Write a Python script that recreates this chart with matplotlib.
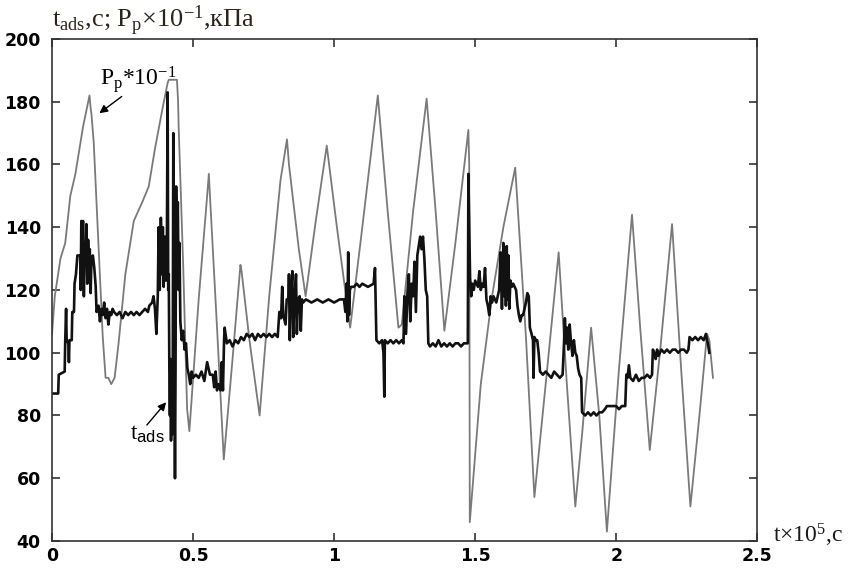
import matplotlib
matplotlib.use("Agg")
import matplotlib.pyplot as plt
import numpy as np

# P_p * 10^-1 (gray sawtooth), time in 10^5 s
pp_t = [0.000, 0.010, 0.030, 0.047, 0.065, 0.083, 0.110, 0.133, 0.137, 0.140, 0.148, 0.165,
        0.180, 0.190, 0.200, 0.210, 0.222, 0.236, 0.260, 0.290, 0.320, 0.343, 0.365, 0.390,
        0.410, 0.414, 0.443, 0.447, 0.449, 0.465, 0.479, 0.487, 0.520, 0.550, 0.556, 0.560,
        0.585, 0.609, 0.640, 0.668, 0.672, 0.700, 0.736, 0.770, 0.810, 0.833, 0.840, 0.875,
        0.899, 0.935, 0.974, 1.010, 1.057, 1.100, 1.155, 1.190, 1.228, 1.240, 1.280, 1.328,
        1.360, 1.391, 1.430, 1.476, 1.479, 1.481, 1.520, 1.560, 1.600, 1.642, 1.680, 1.710,
        1.750, 1.796, 1.825, 1.855, 1.880, 1.911, 1.940, 1.967, 2.010, 2.056, 2.085, 2.119,
        2.155, 2.198, 2.230, 2.263, 2.295, 2.322, 2.330, 2.343]
pp_v = [106, 118, 130, 135, 150, 157, 172, 182, 178, 176, 167, 134,
        105, 92, 92, 90, 92, 103, 125, 142, 148, 153, 165, 177,
        186, 187, 187, 180, 172, 128, 82, 75, 117, 150, 157, 150,
        108, 66, 98, 128, 126, 104, 80, 118, 155, 168, 160, 133,
        118, 142, 166, 140, 108, 140, 182, 145, 108, 109, 145, 181,
        145, 107, 135, 171, 160, 46, 90, 118, 140, 159, 105, 54,
        90, 132, 90, 51, 75, 108, 80, 43, 95, 144, 108, 69,
        100, 141, 95, 51, 80, 106, 104, 92]

# t_ads (black stepped, noisy)
ta_t = [0.000, 0.022, 0.024, 0.045, 0.047, 0.050, 0.052, 0.058, 0.060, 0.062, 0.070, 0.072,
        0.078, 0.080, 0.085, 0.090, 0.100, 0.102, 0.104, 0.107, 0.110, 0.113, 0.116, 0.119,
        0.122, 0.125, 0.128, 0.131, 0.134, 0.137, 0.140, 0.145, 0.150, 0.155, 0.158, 0.165,
        0.170, 0.175, 0.180, 0.185, 0.190, 0.195, 0.200, 0.205, 0.210, 0.215, 0.220, 0.230,
        0.240, 0.250, 0.260, 0.270, 0.280, 0.290, 0.300, 0.310, 0.320, 0.330, 0.340, 0.345,
        0.355, 0.360, 0.365, 0.370, 0.375, 0.378, 0.382, 0.386, 0.390, 0.393, 0.396, 0.400,
        0.404, 0.407, 0.410, 0.412, 0.414, 0.416, 0.418, 0.420, 0.422, 0.424, 0.426, 0.428,
        0.430, 0.432, 0.434, 0.436, 0.438, 0.440, 0.443, 0.446, 0.449, 0.452, 0.455, 0.460,
        0.465, 0.470, 0.475, 0.480, 0.485, 0.490, 0.495, 0.500, 0.510, 0.520, 0.530, 0.540,
        0.545, 0.550, 0.555, 0.560, 0.570, 0.575, 0.580, 0.585, 0.590, 0.598, 0.602, 0.606,
        0.610, 0.612, 0.620, 0.630, 0.640, 0.650, 0.660, 0.670, 0.680, 0.690, 0.700, 0.710,
        0.720, 0.730, 0.740, 0.750, 0.760, 0.770, 0.780, 0.790, 0.800, 0.806, 0.812, 0.816,
        0.820, 0.828, 0.832, 0.838, 0.840, 0.843, 0.846, 0.852, 0.855, 0.860, 0.865, 0.868,
        0.872, 0.878, 0.882, 0.886, 0.890, 0.900, 0.920, 0.940, 0.960, 0.980, 1.000, 1.020,
        1.035, 1.040, 1.044, 1.047, 1.050, 1.053, 1.056, 1.060, 1.070, 1.080, 1.090, 1.100,
        1.120, 1.140, 1.145, 1.150, 1.160, 1.170, 1.175, 1.178, 1.180, 1.190, 1.200, 1.210,
        1.220, 1.230, 1.240, 1.246, 1.249, 1.255, 1.260, 1.265, 1.270, 1.275, 1.280, 1.285,
        1.290, 1.295, 1.300, 1.305, 1.310, 1.315, 1.320, 1.325, 1.330, 1.334, 1.340, 1.350,
        1.360, 1.370, 1.380, 1.390, 1.400, 1.410, 1.420, 1.430, 1.440, 1.450, 1.460, 1.474,
        1.476, 1.479, 1.482, 1.486, 1.490, 1.495, 1.500, 1.510, 1.515, 1.520, 1.525, 1.530,
        1.535, 1.540, 1.545, 1.550, 1.555, 1.560, 1.565, 1.570, 1.575, 1.580, 1.585, 1.590,
        1.595, 1.600, 1.603, 1.606, 1.609, 1.612, 1.615, 1.618, 1.621, 1.625, 1.630, 1.635,
        1.640, 1.645, 1.650, 1.655, 1.660, 1.665, 1.670, 1.675, 1.680, 1.685, 1.690, 1.694,
        1.700, 1.705, 1.707, 1.710, 1.715, 1.720, 1.725, 1.730, 1.740, 1.750, 1.760, 1.770,
        1.780, 1.790, 1.800, 1.810, 1.815, 1.818, 1.822, 1.826, 1.830, 1.835, 1.840, 1.845,
        1.850, 1.855, 1.860, 1.865, 1.870, 1.876, 1.879, 1.890, 1.900, 1.910, 1.920, 1.930,
        1.940, 1.950, 1.960, 1.967, 1.980, 2.000, 2.010, 2.020, 2.032, 2.036, 2.040, 2.045,
        2.050, 2.060, 2.070, 2.080, 2.090, 2.100, 2.110, 2.120, 2.127, 2.130, 2.135, 2.140,
        2.145, 2.150, 2.160, 2.170, 2.180, 2.190, 2.200, 2.210, 2.220, 2.230, 2.240, 2.250,
        2.256, 2.260, 2.270, 2.280, 2.290, 2.300, 2.310, 2.318, 2.322, 2.325, 2.330]
ta_v = [87, 87, 93, 94, 104, 114, 104, 103, 97, 104, 104, 113,
        113, 122, 125, 131, 131, 120, 142, 127, 142, 118, 134, 131,
        141, 122, 136, 128, 133, 119, 130, 131, 127, 121, 113, 115,
        110, 114, 112, 116, 111, 114, 109, 113, 112, 114, 113, 112,
        113, 111, 113, 112, 113, 112, 113, 112, 113, 114, 113, 115,
        116, 118, 114, 106, 118, 140, 120, 143, 125, 140, 121, 137,
        123, 130, 183, 120, 125, 95, 80, 98, 72, 95, 74, 90,
        170, 76, 92, 60, 95, 153, 130, 148, 120, 135, 110, 104,
        107, 101, 103, 95, 93, 90, 94, 92, 93, 92, 94, 91,
        94, 97, 95, 93, 93, 89, 94, 88, 90, 88, 97, 88,
        104, 108, 103, 104, 102, 104, 103, 105, 104, 106, 105, 106,
        104, 106, 105, 106, 105, 106, 105, 106, 105, 113, 111, 121,
        112, 109, 117, 117, 125, 104, 117, 126, 105, 117, 125, 106,
        117, 118, 107, 117, 116, 117, 116, 117, 116, 117, 116, 117,
        117, 113, 122, 110, 132, 112, 120, 121, 121, 122, 121, 122,
        121, 122, 127, 104, 103, 104, 100, 86, 104, 103, 104, 103,
        104, 103, 104, 103, 118, 106, 119, 125, 110, 122, 118, 129,
        113, 131, 134, 137, 133, 137, 130, 120, 118, 103, 102, 103,
        102, 104, 102, 103, 102, 103, 102, 103, 103, 102, 103, 103,
        157, 140, 124, 118, 122, 120, 123, 121, 126, 120, 122, 121,
        127, 117, 115, 112, 118, 116, 118, 117, 116, 118, 120, 132,
        114, 135, 118, 133, 115, 134, 117, 131, 114, 123, 121, 122,
        121, 120, 115, 112, 110, 112, 112, 114, 116, 119, 118, 108,
        106, 104, 92, 105, 104, 104, 100, 94, 93, 94, 93, 92,
        94, 93, 92, 93, 103, 111, 103, 108, 101, 109, 103, 99,
        104, 100, 99, 95, 93, 92, 81, 80, 81, 80, 81, 80,
        81, 81, 82, 83, 83, 83, 82, 83, 83, 93, 92, 96,
        92, 91, 93, 91, 92, 92, 93, 92, 93, 101, 100, 98,
        101, 99, 101, 100, 101, 100, 101, 101, 100, 101, 101, 100,
        101, 105, 104, 105, 104, 105, 104, 106, 104, 103, 100]

x_ticks = [0, 0.5, 1, 1.5, 2, 2.5]
x_tick_labels = ["0", "0.5", "1", "1.5", "2", "2.5"]
y_ticks = [40, 60, 80, 100, 120, 140, 160, 180, 200]

serif = "Liberation Serif"
plt.rcParams["mathtext.fontset"] = "custom"
plt.rcParams["mathtext.rm"] = serif
plt.rcParams["mathtext.it"] = serif + ":italic"
plt.rcParams["mathtext.sf"] = "Liberation Sans"

fig = plt.figure(figsize=(8.48, 5.70), dpi=100)
ax = fig.add_axes([0.0613, 0.0509, 0.8317, 0.8807])

ax.plot(pp_t, pp_v, color="#7a7a7a", lw=1.3)
ax.plot(ta_t, ta_v, color="#111111", lw=1.9)

ax.set_xlim(0, 2.5)
ax.set_ylim(40, 200)
ax.set_xticks(x_ticks)
ax.set_xticklabels(x_tick_labels)
ax.set_yticks(y_ticks)
ax.tick_params(direction="in", length=6, width=1.2, top=True, right=True,
               labelsize=12.5, colors="#333333", labelcolor="black")
ax.tick_params(axis="y", pad=8)
ax.tick_params(axis="x", pad=4)
for lab in ax.get_xticklabels() + ax.get_yticklabels():
    lab.set_fontweight("bold")
for s in ax.spines.values():
    s.set_color("#333333")
    s.set_linewidth(1.2)

fig.text(0.0613, 0.952, r"t$_{\mathrm{ads}}$,c; P$_{\mathrm{p}}$×10$^{\mathrm{-1}}$,кПа",
         fontsize=19, family=serif, color="#2b2418", va="baseline")
fig.text(0.911, 0.049, r"t×10$^{\mathrm{5}}$,c", fontsize=17, family=serif,
         color="#1a1a1a", va="baseline")

ax.annotate("", xy=(0.16, 175.8), xytext=(0.255, 182.2),
            arrowprops=dict(arrowstyle="-|>", color="black", lw=1, mutation_scale=12))
ax.text(0.17, 185.3, r"P$_{\mathrm{p}}$*10$^{\mathrm{-1}}$", fontsize=17, family=serif,
        va="baseline", color="black")
ax.annotate("", xy=(0.411, 84.9), xytext=(0.33, 76.3),
            arrowprops=dict(arrowstyle="-|>", color="black", lw=1, mutation_scale=12))
ax.text(0.277, 72.2, r"t$_{\mathsf{ads}}$", fontsize=17, family=serif,
        va="baseline", color="black")

fig.savefig("out.png", dpi=100)
